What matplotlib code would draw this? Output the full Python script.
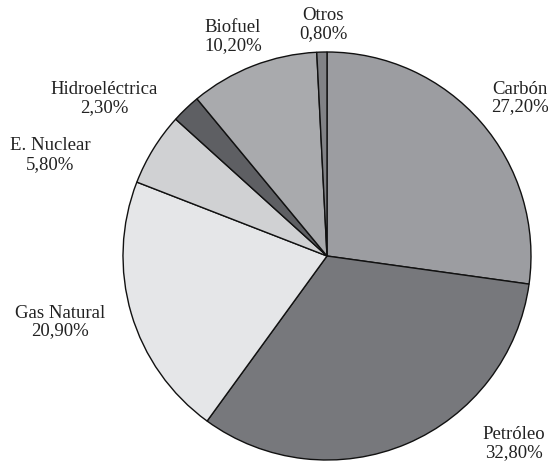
import matplotlib
matplotlib.use("Agg")
import matplotlib.pyplot as plt

categories = ["Carbón", "Petróleo", "Gas Natural", "E. Nuclear", "Hidroeléctrica", "Biofuel", "Otros"]
values = [27.2, 32.8, 20.9, 5.8, 2.3, 10.2, 0.8]
pct_labels = ["27,20%", "32,80%", "20,90%", "5,80%", "2,30%", "10,20%", "0,80%"]
colors = ["#9c9da1", "#77787c", "#e5e6e8", "#d0d1d3", "#5e5f63", "#a9aaad", "#818286"]

# label positions in image pixels (x, y of first line center, y of second line center)
label_pos = {
    "Carbón": (520, 89, 107),
    "Petróleo": (514, 434, 453),
    "Gas Natural": (60, 313, 331),
    "E. Nuclear": (50, 146, 165),
    "Hidroeléctrica": (104, 90, 108),
    "Biofuel": (233, 28, 46),
    "Otros": (323, 16, 34),
}

W, H = 548, 461
fig = plt.figure(figsize=(W / 100, H / 100), dpi=100)
ax = fig.add_axes([0, 0, 1, 1])
ax.pie(values, colors=colors, startangle=90, counterclock=False,
       center=(327, H - 256), radius=204,
       wedgeprops=dict(edgecolor="#111111", linewidth=1.0), frame=True)
ax.set_xlim(0, W)
ax.set_ylim(0, H)
ax.set_aspect("equal")
ax.axis("off")

for cat, pct in zip(categories, pct_labels):
    x, y1, y2 = label_pos[cat]
    ax.text(x, H - y1, cat, ha="center", va="center", fontsize=13.5,
            family="Liberation Serif", color="#222222")
    ax.text(x, H - y2, pct, ha="center", va="center", fontsize=13.5,
            family="Liberation Serif", color="#222222")

fig.savefig("out.png", dpi=100)
